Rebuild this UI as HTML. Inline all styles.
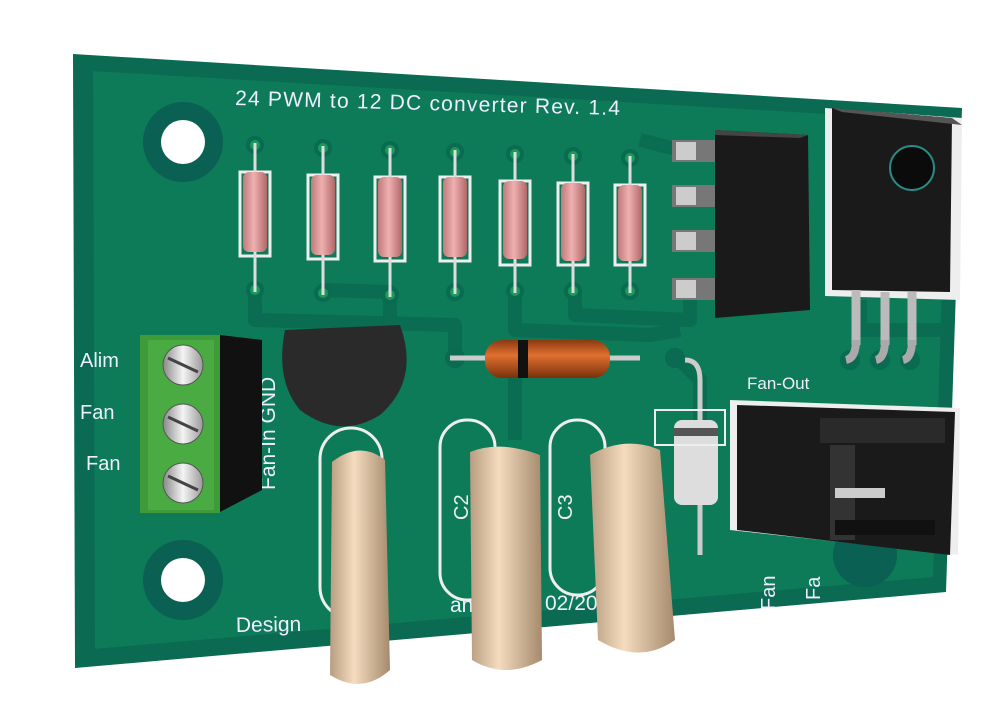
<!DOCTYPE html>
<html><head><meta charset="utf-8"><style>
html,body{margin:0;padding:0;background:#fff;width:1000px;height:720px;overflow:hidden}
text{font-family:"Liberation Sans",sans-serif}
</style></head><body>
<svg width="1000" height="720" viewBox="0 0 1000 720">
<defs>
<linearGradient id="res" x1="0" x2="1"><stop offset="0" stop-color="#c07a7a"/><stop offset=".45" stop-color="#f0b0b0"/><stop offset="1" stop-color="#b06868"/></linearGradient>
<linearGradient id="cap" x1="0" x2="1"><stop offset="0" stop-color="#b89d80"/><stop offset=".4" stop-color="#f5dcbf"/><stop offset="1" stop-color="#a58a6d"/></linearGradient>
<linearGradient id="dio" x1="0" y1="0" x2="0" y2="1"><stop offset="0" stop-color="#8a3a10"/><stop offset=".4" stop-color="#e07030"/><stop offset="1" stop-color="#7a300c"/></linearGradient>
<linearGradient id="scr" x1="0" x2="1"><stop offset="0" stop-color="#888"/><stop offset=".5" stop-color="#f4f4f4"/><stop offset="1" stop-color="#999"/></linearGradient>
</defs>
<polygon points="73,54 962,108 946,592 75,668" fill="#0a6a52"/>
<polygon points="92,70 948,120 934,578 94,650" fill="#0d7a58" stroke="#0a6a52" stroke-width="2"/>
<g stroke="#0a6c50" stroke-width="14" fill="none" stroke-linejoin="round">
<path d="M255,290 L255,320 L455,325 L455,360"/>
<path d="M320,290 L390,292 L390,320"/>
<path d="M515,290 L515,330 L650,335 L680,330"/>
<path d="M640,140 L680,150"/>
<path d="M575,290 L575,315 L690,320 L690,300"/>
<path d="M515,360 L515,440"/>
<path d="M860,300 L860,330 L945,330"/>
<path d="M680,360 L700,380 L700,440"/>
</g>
<circle cx="183" cy="142" r="40" fill="#0a6052"/><circle cx="183" cy="142" r="22" fill="#fff"/>
<circle cx="183" cy="580" r="40" fill="#0a6052"/><circle cx="183" cy="580" r="22" fill="#fff"/>
<circle cx="865" cy="555" r="32" fill="#0a6052"/>
<text x="235" y="105" fill="#eef" font-size="21" textLength="385" transform="rotate(1.5 235 105)">24 PWM to 12 DC converter Rev. 1.4</text>
<text x="236" y="632" fill="#eef" font-size="21" transform="rotate(-1 236 632)">Design</text>
<text x="450" y="612" fill="#eef" font-size="21">anpola</text>
<text x="545" y="610" fill="#eef" font-size="21">02/20</text>
<text x="747" y="389" fill="#eef" font-size="17" font-family="Liberation Serif">Fan-Out</text>
<text x="275" y="490" fill="#eef" font-size="21" font-family="Liberation Serif" transform="rotate(-90 275 490)">Fan-In GND</text>
<text x="80" y="367" fill="#eef" font-size="20">Alim</text>
<text x="80" y="419" fill="#eef" font-size="20">Fan</text>
<text x="86" y="470" fill="#eef" font-size="20">Fan</text>
<text x="775" y="610" fill="#eef" font-size="20" transform="rotate(-90 775 610)">Fan</text>
<text x="820" y="600" fill="#eef" font-size="20" transform="rotate(-90 820 600)">Fa</text>
<g>
<g transform="translate(255,0)"><circle cx="0" cy="145" r="9" fill="#0a6a52"/><circle cx="0" cy="145" r="5" fill="#1a9a5a"/><circle cx="0" cy="290" r="9" fill="#0a6a52"/><circle cx="0" cy="290" r="5" fill="#1a9a5a"/><rect x="-15" y="172" width="30" height="84" fill="none" stroke="#eee" stroke-width="3"/><line x1="0" y1="143" x2="0" y2="292" stroke="#ddd" stroke-width="3"/><rect x="-12" y="172" width="24" height="80" rx="6" fill="url(#res)"/></g>
<g transform="translate(323,3)"><circle cx="0" cy="145" r="9" fill="#0a6a52"/><circle cx="0" cy="145" r="5" fill="#1a9a5a"/><circle cx="0" cy="290" r="9" fill="#0a6a52"/><circle cx="0" cy="290" r="5" fill="#1a9a5a"/><rect x="-15" y="172" width="30" height="84" fill="none" stroke="#eee" stroke-width="3"/><line x1="0" y1="143" x2="0" y2="292" stroke="#ddd" stroke-width="3"/><rect x="-12" y="172" width="24" height="80" rx="6" fill="url(#res)"/></g>
<g transform="translate(390,5)"><circle cx="0" cy="145" r="9" fill="#0a6a52"/><circle cx="0" cy="145" r="5" fill="#1a9a5a"/><circle cx="0" cy="290" r="9" fill="#0a6a52"/><circle cx="0" cy="290" r="5" fill="#1a9a5a"/><rect x="-15" y="172" width="30" height="84" fill="none" stroke="#eee" stroke-width="3"/><line x1="0" y1="143" x2="0" y2="292" stroke="#ddd" stroke-width="3"/><rect x="-12" y="172" width="24" height="80" rx="6" fill="url(#res)"/></g>
<g transform="translate(455,7)"><circle cx="0" cy="145" r="9" fill="#0a6a52"/><circle cx="0" cy="145" r="5" fill="#1a9a5a"/><circle cx="0" cy="285" r="9" fill="#0a6a52"/><circle cx="0" cy="285" r="5" fill="#1a9a5a"/><rect x="-15" y="170" width="30" height="84" fill="none" stroke="#eee" stroke-width="3"/><line x1="0" y1="143" x2="0" y2="287" stroke="#ddd" stroke-width="3"/><rect x="-12" y="170" width="24" height="80" rx="6" fill="url(#res)"/></g>
<g transform="translate(515,9)"><circle cx="0" cy="145" r="9" fill="#0a6a52"/><circle cx="0" cy="145" r="5" fill="#1a9a5a"/><circle cx="0" cy="282" r="9" fill="#0a6a52"/><circle cx="0" cy="282" r="5" fill="#1a9a5a"/><rect x="-15" y="172" width="30" height="84" fill="none" stroke="#eee" stroke-width="3"/><line x1="0" y1="143" x2="0" y2="284" stroke="#ddd" stroke-width="3"/><rect x="-12" y="172" width="24" height="78" rx="6" fill="url(#res)"/></g>
<g transform="translate(573,11)"><circle cx="0" cy="145" r="9" fill="#0a6a52"/><circle cx="0" cy="145" r="5" fill="#1a9a5a"/><circle cx="0" cy="280" r="9" fill="#0a6a52"/><circle cx="0" cy="280" r="5" fill="#1a9a5a"/><rect x="-15" y="172" width="30" height="82" fill="none" stroke="#eee" stroke-width="3"/><line x1="0" y1="143" x2="0" y2="282" stroke="#ddd" stroke-width="3"/><rect x="-12" y="172" width="24" height="78" rx="6" fill="url(#res)"/></g>
<g transform="translate(630,13)"><circle cx="0" cy="145" r="9" fill="#0a6a52"/><circle cx="0" cy="145" r="5" fill="#1a9a5a"/><circle cx="0" cy="278" r="9" fill="#0a6a52"/><circle cx="0" cy="278" r="5" fill="#1a9a5a"/><rect x="-15" y="172" width="30" height="80" fill="none" stroke="#eee" stroke-width="3"/><line x1="0" y1="143" x2="0" y2="280" stroke="#ddd" stroke-width="3"/><rect x="-12" y="172" width="24" height="76" rx="6" fill="url(#res)"/></g>
</g>
<g>
<rect x="672" y="140" width="50" height="22" fill="#777"/><rect x="672" y="185" width="50" height="22" fill="#777"/><rect x="672" y="230" width="50" height="22" fill="#777"/><rect x="672" y="278" width="50" height="22" fill="#777"/>
<rect x="676" y="142" width="20" height="18" fill="#ccc"/><rect x="676" y="187" width="20" height="18" fill="#ccc"/><rect x="676" y="232" width="20" height="18" fill="#ccc"/><rect x="676" y="280" width="20" height="18" fill="#ccc"/>
<polygon points="715,130 808,135 810,310 715,318" fill="#1a1a1a"/>
<polygon points="715,130 808,135 800,138 715,135" fill="#444"/>
</g>
<g>
<polygon points="825,108 962,118 960,300 825,296" fill="#eee"/>
<polygon points="832,108 952,118 950,292 832,290" fill="#1a1a1a"/>
<polygon points="832,108 952,118 962,125 842,112" fill="#555"/>
<circle cx="912" cy="168" r="22" fill="#0b0b0b" stroke="#2a8a88" stroke-width="2"/>
<path d="M856,290 L856,345 M885,292 L885,345 M912,292 L912,345" stroke="#bbb" stroke-width="9" fill="none"/>
<circle cx="850" cy="360" r="10" fill="#0a6a52"/><circle cx="880" cy="360" r="10" fill="#0a6a52"/><circle cx="910" cy="360" r="10" fill="#0a6a52"/>
<path d="M856,340 Q856,358 846,360 M885,340 Q885,358 876,360 M912,340 Q912,358 903,360" stroke="#aaa" stroke-width="8" fill="none"/>
</g>
<g>
<rect x="140" y="335" width="80" height="178" fill="#3f9a3a"/>
<rect x="148" y="340" width="66" height="170" fill="#4aab42"/>
<polygon points="220,335 262,340 262,490 220,512" fill="#111"/>
<circle cx="183" cy="365" r="20" fill="url(#scr)" stroke="#555"/><line x1="168" y1="358" x2="198" y2="372" stroke="#444" stroke-width="3"/>
<circle cx="183" cy="424" r="20" fill="url(#scr)" stroke="#555"/><line x1="168" y1="417" x2="198" y2="431" stroke="#444" stroke-width="3"/>
<circle cx="183" cy="483" r="20" fill="url(#scr)" stroke="#555"/><line x1="168" y1="476" x2="198" y2="490" stroke="#444" stroke-width="3"/>
</g>
<path d="M285,330 L400,325 Q420,380 380,415 Q340,440 300,410 Q275,380 285,330 Z" fill="#2a2a2a"/>
<circle cx="455" cy="358" r="10" fill="#0a6a52"/><circle cx="675" cy="358" r="10" fill="#0a6a52"/>
<line x1="450" y1="358" x2="640" y2="358" stroke="#ccc" stroke-width="5"/>
<rect x="485" y="340" width="125" height="38" rx="17" fill="url(#dio)"/>
<rect x="518" y="340" width="10" height="38" fill="#111"/>
<path d="M685,360 Q700,360 700,380 L700,555" stroke="#ccc" stroke-width="5" fill="none"/>
<rect x="674" y="420" width="44" height="85" rx="8" fill="#ddd"/>
<rect x="674" y="428" width="44" height="8" fill="#555"/>
<rect x="655" y="410" width="70" height="35" fill="none" stroke="#eee" stroke-width="2"/>
<rect x="320" y="428" width="62" height="190" rx="31" fill="none" stroke="#eee" stroke-width="3"/>
<rect x="440" y="420" width="55" height="180" rx="27" fill="none" stroke="#eee" stroke-width="3"/>
<rect x="550" y="420" width="55" height="175" rx="27" fill="none" stroke="#eee" stroke-width="3"/>
<text x="572" y="520" fill="#eee" font-size="20" font-family="Liberation Serif" transform="rotate(-90 572 520)">C3</text>
<text x="468" y="520" fill="#eee" font-size="20" font-family="Liberation Serif" transform="rotate(-90 468 520)">C2</text>
<path d="M332,462 Q360,440 385,460 L390,670 Q362,695 330,675 Z" fill="url(#cap)"/>
<path d="M470,452 Q500,440 540,455 L542,660 Q505,680 472,660 Z" fill="url(#cap)"/>
<path d="M590,455 Q625,435 660,450 L675,640 Q640,665 598,640 Z" fill="url(#cap)"/>
<polygon points="730,400 960,408 958,555 730,530" fill="#eee"/>
<polygon points="737,405 955,412 950,555 737,530" fill="#1a1a1a"/>
<rect x="820" y="418" width="125" height="25" fill="#2a2a2a"/>
<rect x="830" y="445" width="25" height="95" fill="#333"/>
<rect x="835" y="488" width="50" height="10" fill="#ccc"/>
<rect x="835" y="520" width="100" height="15" fill="#111"/>
</svg>
</body></html>
